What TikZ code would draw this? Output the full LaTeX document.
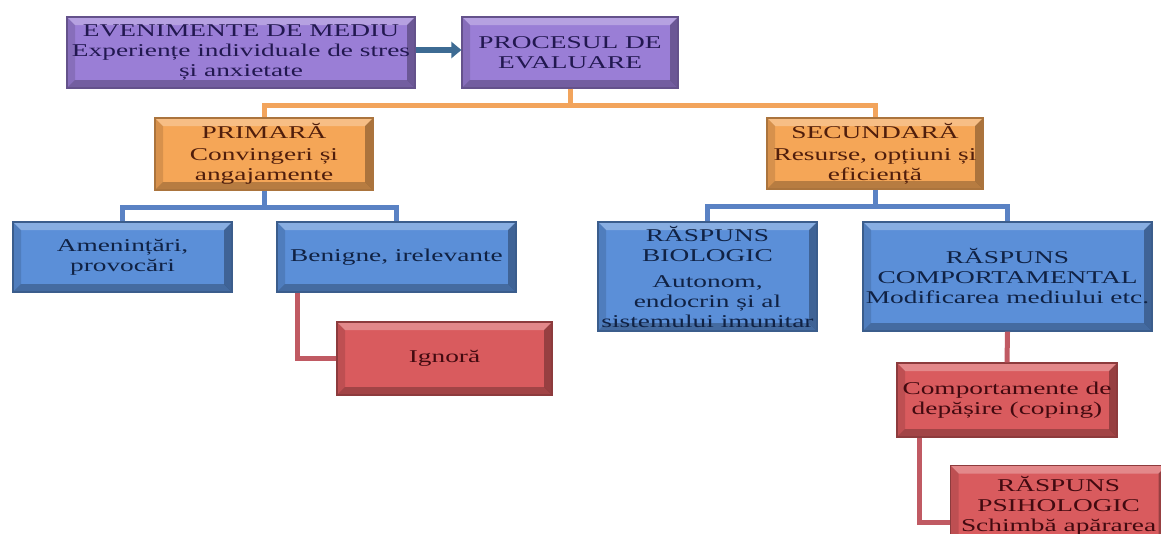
\documentclass[tikz,border=0pt]{standalone}
\usepackage{fontspec}
\setmainfont{Liberation Serif}[FakeStretch=1.52]
\usepackage{xcolor}
\usetikzlibrary{arrows.meta, calc}

\definecolor{purpfill}{HTML}{9A7ED6}
\definecolor{purptext}{HTML}{221850}
\definecolor{orfill}{HTML}{F5A657}
\definecolor{ortext}{HTML}{501E0C}
\definecolor{orline}{HTML}{F2A45C}
\definecolor{blfill}{HTML}{5B8FD8}
\definecolor{bltext}{HTML}{102244}
\definecolor{blline}{HTML}{5A82C4}
\definecolor{rdfill}{HTML}{D95B5E}
\definecolor{rdtext}{HTML}{420A10}
\definecolor{rdline}{HTML}{C05A63}
\definecolor{arrowcol}{HTML}{3D6B93}

\tikzset{
  bevel/.style={path picture={
    \fill[white,opacity=.28] (path picture bounding box.north west) -- (path picture bounding box.north east)
      -- ([shift={(-8pt,-8pt)}]path picture bounding box.north east) -- ([shift={(8pt,-8pt)}]path picture bounding box.north west) -- cycle;
    \fill[black,opacity=.12] (path picture bounding box.north west) -- ([shift={(8pt,-8pt)}]path picture bounding box.north west)
      -- ([shift={(8pt,8pt)}]path picture bounding box.south west) -- (path picture bounding box.south west) -- cycle;
    \fill[black,opacity=.25] (path picture bounding box.south west) -- (path picture bounding box.south east)
      -- ([shift={(-8pt,8pt)}]path picture bounding box.south east) -- ([shift={(8pt,8pt)}]path picture bounding box.south west) -- cycle;
    \fill[black,opacity=.3] (path picture bounding box.north east) -- (path picture bounding box.south east)
      -- ([shift={(-8pt,8pt)}]path picture bounding box.south east) -- ([shift={(-8pt,-8pt)}]path picture bounding box.north east) -- cycle;
  }},
  box/.style={rectangle, bevel, line width=1.2pt, align=center, inner sep=1pt,
    font=\fontsize{18}{20}\selectfont},
  purplebox/.style={box, fill=purpfill, draw=purpfill!65!black, text=purptext},
  orangebox/.style={box, fill=orfill, draw=orfill!70!black, text=ortext},
  bluebox/.style={box, fill=blfill, draw=blfill!65!black, text=bltext},
  redbox/.style={box, fill=rdfill, draw=rdfill!65!black, text=rdtext},
  orangeline/.style={draw=orline, line width=5pt},
  blueline/.style={draw=blline, line width=5pt},
  redline/.style={draw=rdline, line width=5pt},
}

\begin{document}
\begin{tikzpicture}[x=1pt, y=-1pt]
\useasboundingbox (0,0) rectangle (1161,533);
\clip (0,0) rectangle (1161,533);

% nivelul 1
\node[purplebox, minimum width=348pt, minimum height=71pt] (env) at (241,52.5)
  {EVENIMENTE DE MEDIU\\Experiențe individuale de stres\\și anxietate};
\node[purplebox, minimum width=216pt, minimum height=71pt] (proc) at (570,52.5)
  {PROCESUL DE\\EVALUARE};

% nivelul 2
\node[orangebox, minimum width=218pt, minimum height=72pt] (prim) at (264,154)
  {PRIMARĂ\\[2pt]Convingeri și\\angajamente};
\node[orangebox, minimum width=216pt, minimum height=71pt] (sec) at (875,153.5)
  {SECUNDARĂ\\[2pt]Resurse, opțiuni și\\eficiență};

% nivelul 3
\node[bluebox, minimum width=219pt, minimum height=70pt] (amen) at (122.5,257)
  {Amenințări,\\provocări};
\node[bluebox, minimum width=239pt, minimum height=70pt] (ben) at (396.5,257)
  {Benigne, irelevante};
\node[bluebox, minimum width=219pt, minimum height=109pt] (bio) at (707.5,276.5)
  {RĂSPUNS\\BIOLOGIC\\[6pt]Autonom,\\endocrin și al\\sistemului imunitar};
\node[bluebox, minimum width=289pt, minimum height=109pt] (comp) at (1007.5,276.5)
  {RĂSPUNS\\COMPORTAMENTAL\\Modificarea mediului etc.};

% nivelul 4
\node[redbox, minimum width=215pt, minimum height=73pt] (ign) at (444.5,358.5) {Ignoră};
\node[redbox, minimum width=220pt, minimum height=74pt] (cop) at (1007,400)
  {Comportamente de\\depășire (coping)};
\node[redbox, minimum width=216pt, minimum height=80pt, anchor=north west] (psi) at (950,465)
  {RĂSPUNS\\PSIHOLOGIC\\Schimbă apărarea};

% legaturi
\draw[draw=arrowcol, line width=6pt, -{Triangle[length=10pt, width=16pt]}] (env.east |- 0,50) -- (proc.west |- 0,50);
\draw[orangeline] (proc.south) -- ++(0,17) -| (prim.north);
\draw[orangeline] (proc.south) -- ++(0,17) -| (sec.north);
\draw[blueline] (prim.south) -- ++(0,17) -| (amen.north);
\draw[blueline] (prim.south) -- ++(0,17) -| (ben.north);
\draw[blueline] (sec.south) -- ++(0,17) -| (bio.north);
\draw[blueline] (sec.south) -- ++(0,17) -| (comp.north);
\draw[redline] ([xshift=21pt]ben.south west) |- (ign.west);
\draw[redline] (comp.south) -- (cop.north);
\draw[redline] ([xshift=23pt]cop.south west) |- ([yshift=-17pt]psi.west);
\end{tikzpicture}
\end{document}
